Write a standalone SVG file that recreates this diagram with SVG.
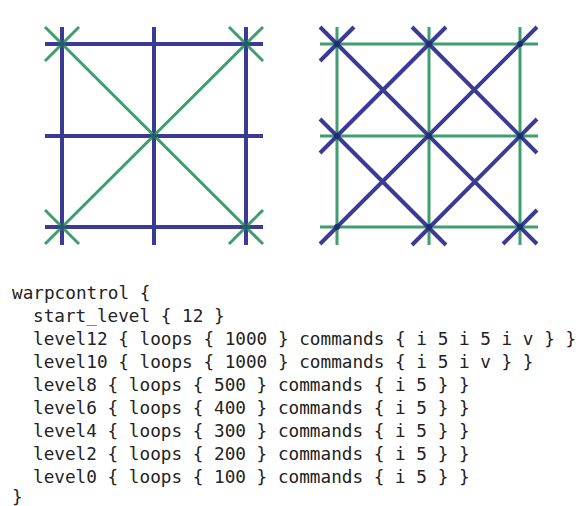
<svg xmlns="http://www.w3.org/2000/svg" width="581" height="506" viewBox="0 0 581 506">
<style>
.b{stroke:#3b3b95;stroke-width:4;stroke-linecap:butt;fill:none}
.g{stroke:#3f9d6e;stroke-width:3;stroke-linecap:butt;fill:none}
.dg{fill:#1f5f66}
.db{fill:#1e2f6e}
.t{font-family:"DejaVu Sans Mono","Liberation Mono",monospace;font-size:17.7px;fill:#222}
</style>
<rect width="581" height="506" fill="#ffffff"/>
<g id="grid-left">
<path class="b" d="M45 44H263M45 136H263M45 227H263M62 27V245M154 27V245M246 27V245"/>
<path class="g" d="M45 27L263 244M263 27L45 244M45 61L79 27M229 27L263 61M45 210L79 244M229 244L263 210"/>
<g class="dg">
<circle cx="62" cy="44" r="3"/><circle cx="246" cy="44" r="3"/><circle cx="154" cy="136" r="3"/><circle cx="62" cy="227" r="3"/><circle cx="246" cy="227" r="3"/>
</g>
</g>
<g id="grid-right">
<path class="g" d="M320 44H538M320 136H538M320 227H538M337 27V245M429 27V245M520 27V245"/>
<path class="b" d="M320 27L537 244M320 119L446 245M412 27L537 153M320 244L537 27M320 153L446 27M412 245L537 119M320 61L354 27M503 244L537 210"/>
<g class="db">
<circle cx="337" cy="44" r="3"/><circle cx="429" cy="44" r="3"/><circle cx="520" cy="44" r="3"/>
<circle cx="337" cy="136" r="3"/><circle cx="429" cy="136" r="3"/><circle cx="520" cy="136" r="3"/>
<circle cx="337" cy="227" r="3"/><circle cx="429" cy="227" r="3"/><circle cx="520" cy="227" r="3"/>
</g>
</g>
<g id="code" class="t">
<text x="12" y="299">warpcontrol {</text>
<text x="33" y="322">start_level { 12 }</text>
<text x="33" y="345">level12 { loops { 1000 } commands { i 5 i 5 i v } }</text>
<text x="33" y="368">level10 { loops { 1000 } commands { i 5 i v } }</text>
<text x="33" y="391">level8 { loops { 500 } commands { i 5 } }</text>
<text x="33" y="414">level6 { loops { 400 } commands { i 5 } }</text>
<text x="33" y="437">level4 { loops { 300 } commands { i 5 } }</text>
<text x="33" y="460">level2 { loops { 200 } commands { i 5 } }</text>
<text x="33" y="483">level0 { loops { 100 } commands { i 5 } }</text>
<text x="12" y="503">}</text>
</g>
</svg>
